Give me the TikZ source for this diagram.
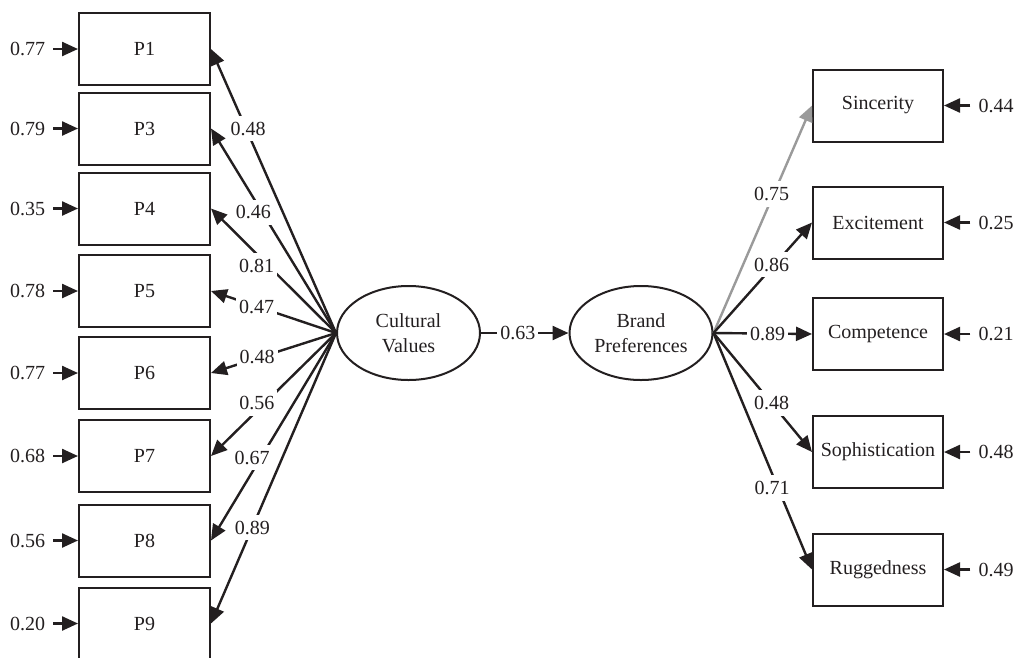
\documentclass[tikz,border=0pt]{standalone}
\usepackage{fontspec}
\setmainfont{Liberation Serif}
\usetikzlibrary{shapes.geometric,arrows.meta}
\definecolor{ink}{HTML}{231F20}
\definecolor{lgray}{HTML}{9A9A9A}
\begin{document}
\begin{tikzpicture}[x=1pt,y=-1pt,
  every node/.style={font=\fontsize{20}{25}\selectfont, text=ink},
  obs/.style={draw=ink, line width=2pt, minimum width=131pt, minimum height=72pt, inner sep=0pt},
  lat/.style={draw=ink, line width=2pt, ellipse, minimum width=143pt, minimum height=94pt, inner sep=0pt, align=center},
  conn/.style={draw=ink, line width=2.4pt, -{Triangle[length=16pt,width=14pt]}},
  lab/.style={fill=white, inner xsep=3pt, inner ysep=6pt},
  err/.style={inner xsep=8pt, inner ysep=2pt}
]
\path[use as bounding box] (0,0) rectangle (1017,657);
\clip (0,0) rectangle (1017,657);

% latent variables
\node[lat] (CV) at (408.5,333) {Cultural\\Values};
\node[lat] (BP) at (641,333) {Brand\\Preferences};

% left observed
\node[obs] (P1) at (144.5,49) {P1};
\node[obs] (P3) at (144.5,128.5) {P3};
\node[obs] (P4) at (144.5,208.5) {P4};
\node[obs] (P5) at (144.5,291) {P5};
\node[obs] (P6) at (144.5,373) {P6};
\node[obs] (P7) at (144.5,456) {P7};
\node[obs] (P8) at (144.5,540.5) {P8};
\node[obs] (P9) at (144.5,623.5) {P9};

% right observed
\node[obs, minimum width=130pt] (S1) at (878,105.5) {Sincerity};
\node[obs, minimum width=130pt] (S2) at (878,222.5) {Excitement};
\node[obs, minimum width=130pt] (S3) at (878,334) {Competence};
\node[obs, minimum width=130pt] (S4) at (878,452) {Sophistication};
\node[obs, minimum width=130pt] (S5) at (878,569.5) {Ruggedness};

% left error terms
\node[err] (e1) at (27.5,49) {0.77};
\node[err] (e3) at (27.5,128.5) {0.79};
\node[err] (e4) at (27.5,208.5) {0.35};
\node[err] (e5) at (27.5,291) {0.78};
\node[err] (e6) at (27.5,373) {0.77};
\node[err] (e7) at (27.5,456) {0.68};
\node[err] (e8) at (27.5,540.5) {0.56};
\node[err] (e9) at (27.5,623.5) {0.20};
\foreach \i in {1,3,4,5,6,7,8,9} {\draw[conn] (e\i.east) -- (P\i.west);}

% right error terms
\node[err] (r1) at (996,105.5) {0.44};
\node[err] (r2) at (996,222.5) {0.25};
\node[err] (r3) at (996,334) {0.21};
\node[err] (r4) at (996,452) {0.48};
\node[err] (r5) at (996,569.5) {0.49};
\foreach \i in {1,...,5} {\draw[conn] (r\i.west) -- (S\i.east);}

% loadings of Cultural Values
\draw[conn] (CV.west) -- node[lab, pos=0.72, xshift=2pt] {0.48} (P1.east);
\draw[conn] (CV.west) -- node[lab, pos=0.59, xshift=-9pt] {0.46} (P3.east);
\draw[conn] (CV.west) -- node[lab, pos=0.54, xshift=-12pt] {0.81} (P4.east);
\draw[conn] (CV.west) -- node[lab, pos=0.62, xshift=-2pt] {0.47} (P5.east);
\draw[conn] (CV.west) -- node[lab, pos=0.60, xshift=-4pt] {0.48} (P6.east);
\draw[conn] (CV.west) -- node[lab, pos=0.57, xshift=-8pt] {0.56} (P7.east);
\draw[conn] (CV.west) -- node[lab, pos=0.60, xshift=-9pt] {0.67} (P8.east);
\draw[conn] (CV.west) -- node[lab, pos=0.67] {0.89} (P9.east);

% structural path
\draw[conn] (CV.east) -- node[lab, pos=0.42] {0.63} (BP.west);

% loadings of Brand Preferences
\draw[conn, draw=lgray] (BP.east) -- node[lab, pos=0.61, xshift=-2pt] {0.75} (S1.west);
\draw[conn] (BP.east) -- node[lab, pos=0.62, xshift=-3pt] {0.86} (S2.west);
\draw[conn] (BP.east) -- node[lab, pos=0.55] {0.89} (S3.west);
\draw[conn] (BP.east) -- node[lab, pos=0.59] {0.48} (S4.west);
\draw[conn] (BP.east) -- node[lab, pos=0.655, xshift=-6pt] {0.71} (S5.west);
\end{tikzpicture}
\end{document}
